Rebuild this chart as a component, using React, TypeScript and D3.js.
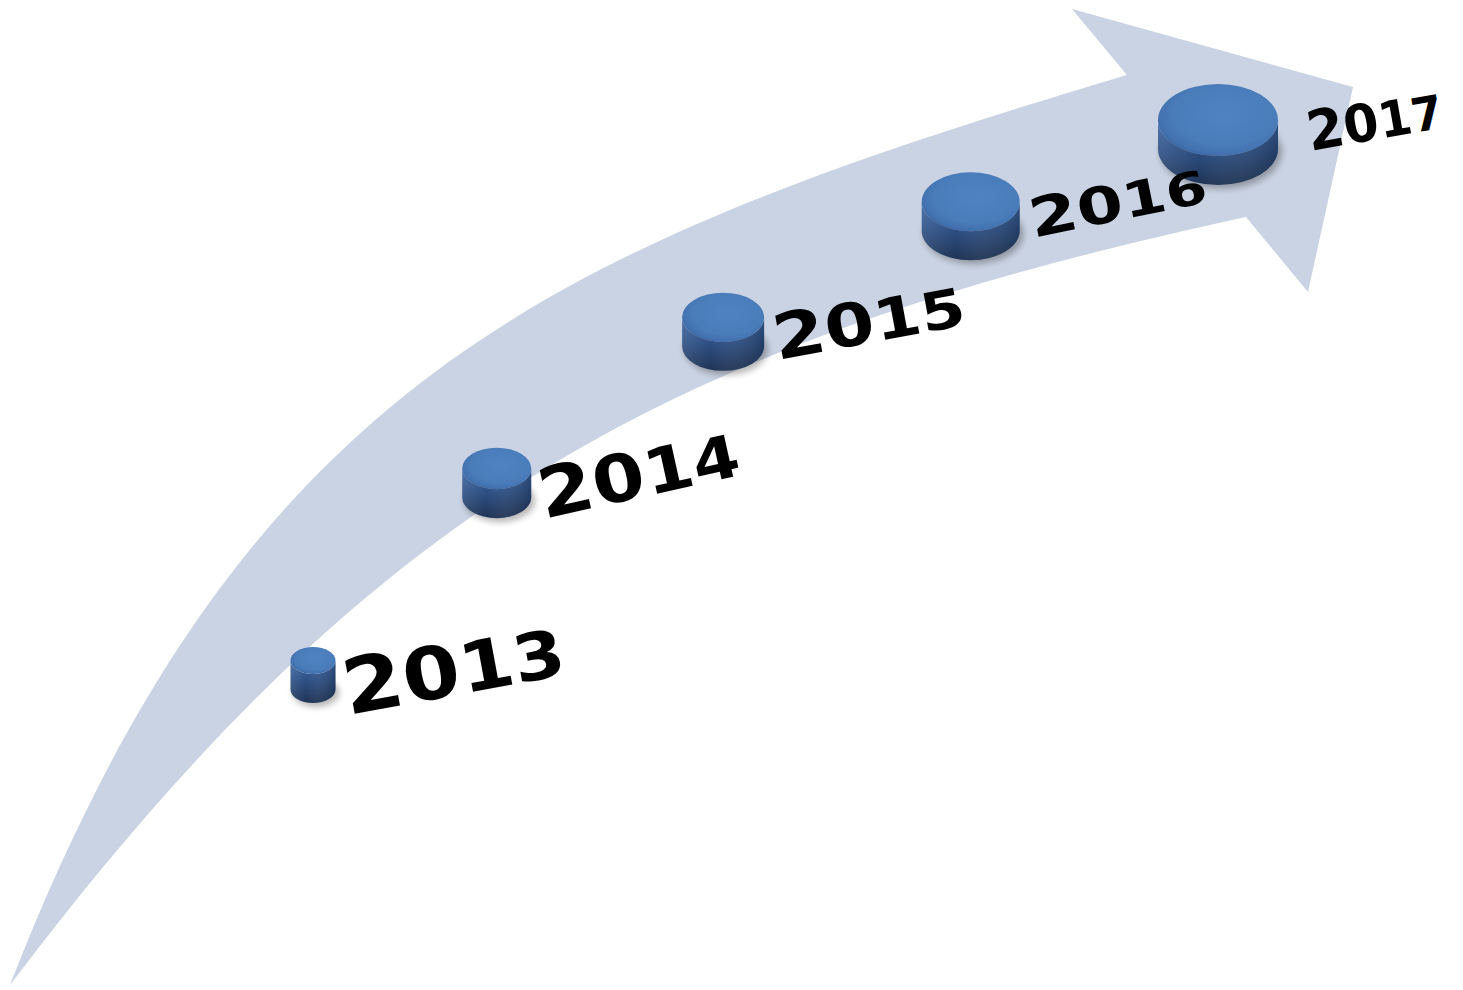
import React from "react";
import * as d3 from "d3";

// ---- data ----
const years: string[] = ["2013", "2014", "2015", "2016", "2017"];
const values: number[] = [45, 69, 82, 98, 120]; // relative size of each milestone

// ---- label styling (per milestone) ----
const labelFont: number[] = [71, 64, 58, 50, 51];
const labelLength: number[] = [224, 204, 194, 180, 137];
const labelAngle: number[] = [-10.5, -12.5, -10.5, -11.5, -10];

// ---- layout (decorative arrow outline) ----
const W = 1463;
const H = 990;
const tail: [number, number] = [10, 985];
const upperCtrl: [number, number][] = [[246, 379], [552, 247], [1127, 75]];
const arrowHead: [number, number][] = [[1072, 9], [1353, 87], [1308, 292], [1246, 217]];
const lowerCtrl: [number, number][] = [[660, 344], [372, 507]];
// track the milestones sit on (cubic bezier)
const track = { p0: [313, 703], c1: [520, 431], c2: [898, 262], p3: [1218, 185] };

function bez(t: number): [number, number] {
  const u = 1 - t;
  const a = u * u * u, b = 3 * u * u * t, c = 3 * u * t * t, d = t * t * t;
  return [
    a * track.p0[0] + b * track.c1[0] + c * track.c2[0] + d * track.p3[0],
    a * track.p0[1] + b * track.c1[1] + c * track.c2[1] + d * track.p3[1],
  ];
}

export default function App() {
  const p = d3.path();
  p.moveTo(tail[0], tail[1]);
  p.bezierCurveTo(upperCtrl[0][0], upperCtrl[0][1], upperCtrl[1][0], upperCtrl[1][1], upperCtrl[2][0], upperCtrl[2][1]);
  arrowHead.forEach((pt) => p.lineTo(pt[0], pt[1]));
  p.bezierCurveTo(lowerCtrl[0][0], lowerCtrl[0][1], lowerCtrl[1][0], lowerCtrl[1][1], tail[0], tail[1]);
  p.closePath();
  const arrowPath = p.toString();

  const pos = d3.scalePoint<string>().domain(years).range([0, 1]);
  const rScale = d3.scaleLinear().domain([0, 120]).range([0, 60]);
  const RATIO = 0.6;
  const BODY = 29;

  const items = years.map((y, i) => {
    const [bx, by] = bez(pos(y) as number);
    const rx = rScale(values[i]);
    const ry = rx * RATIO;
    const botCy = by - ry;
    const topCy = botCy - BODY;
    return { y, i, cx: bx, rx, ry, botCy, topCy, bottom: by };
  });

  return (
    <svg
      width={W}
      height={H}
      viewBox={`0 0 ${W} ${H}`}
      style={{ position: "absolute", left: 0, top: 0, background: "#fff" }}
    >
      <defs>
        <linearGradient id="sideV" x1="0" y1="0" x2="0" y2="1">
          <stop offset="0" stopColor="#3d67a4" />
          <stop offset="0.45" stopColor="#2d5086" />
          <stop offset="1" stopColor="#1e3354" />
        </linearGradient>
        <linearGradient id="sideH" x1="0" y1="0" x2="1" y2="0">
          <stop offset="0" stopColor="#ffffff" stopOpacity="0.10" />
          <stop offset="0.35" stopColor="#ffffff" stopOpacity="0" />
          <stop offset="1" stopColor="#000000" stopOpacity="0.22" />
        </linearGradient>
        <radialGradient id="topFace" cx="0.56" cy="0.42" r="0.62">
          <stop offset="0" stopColor="#4e83c2" />
          <stop offset="0.7" stopColor="#4a7cba" />
          <stop offset="0.9" stopColor="#4271ae" />
          <stop offset="1" stopColor="#39639d" />
        </radialGradient>
        <filter id="shadow" x="-50%" y="-50%" width="200%" height="200%">
          <feGaussianBlur stdDeviation="3" />
        </filter>
      </defs>

      <path d={arrowPath} fill="#cad3e3" />

      {items.map((c) => {
        const side = `M${c.cx - c.rx},${c.topCy} L${c.cx - c.rx},${c.botCy} A${c.rx},${c.ry} 0 0 0 ${
          c.cx + c.rx
        },${c.botCy} L${c.cx + c.rx},${c.topCy} A${c.rx},${c.ry} 0 0 1 ${c.cx - c.rx},${c.topCy} Z`;
        return (
          <g key={c.y}>
            <ellipse
              cx={c.cx + 3}
              cy={c.botCy + 3}
              rx={c.rx + 1}
              ry={c.ry + 1}
              fill="#000"
              opacity={0.28}
              filter="url(#shadow)"
            />
            <path d={side} fill="url(#sideV)" />
            <path d={side} fill="url(#sideH)" />
            <ellipse cx={c.cx} cy={c.topCy} rx={c.rx} ry={c.ry} fill="url(#topFace)" />
          </g>
        );
      })}

      {items.map((c) => {
        const fs = labelFont[c.i];
        const gap = 16 + Math.max(0, c.rx - 50) * 1.9;
        const tx = c.cx + c.rx + gap - 0.05 * fs;
        const ty = c.bottom + 12 - 11.5 * c.i;
        const chars = c.y.split("");
        return (
          <text
            key={"t" + c.y}
            transform={`translate(${tx},${ty}) rotate(${labelAngle[c.i]})`}
            fontFamily="'DejaVu Sans', Verdana, sans-serif"
            fontWeight="bold"
            fill="#000"
            textLength={labelLength[c.i]}
            lengthAdjust="spacingAndGlyphs"
          >
            {chars.map((ch, j) => (
              <tspan key={j} fontSize={fs * (1.08 - 0.053 * j)}>
                {ch}
              </tspan>
            ))}
          </text>
        );
      })}
    </svg>
  );
}
